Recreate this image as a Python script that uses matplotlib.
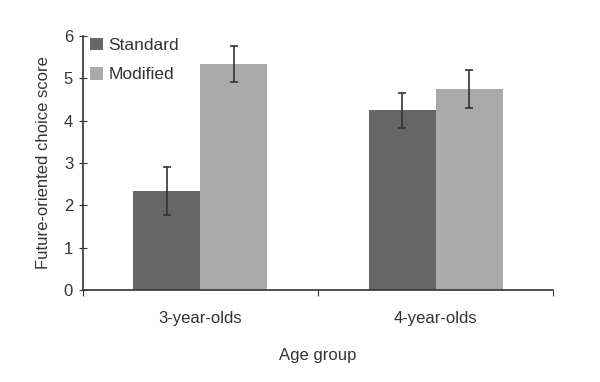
import matplotlib
matplotlib.use("Agg")
import matplotlib.pyplot as plt
import numpy as np

groups = ["3-year-olds", "4-year-olds"]
standard = [2.34, 4.24]
standard_err_hi = [2.90, 4.65]
standard_err_lo = [1.77, 3.83]
modified = [5.34, 4.74]
modified_err_hi = [5.77, 5.20]
modified_err_lo = [4.90, 4.30]

plt.rcParams['font.family'] = ['Liberation Sans', 'DejaVu Sans']

fig = plt.figure(figsize=(6, 3.82), dpi=100)
ax = fig.add_axes([0.138, 0.241, 0.784, 0.665])

x = np.arange(len(groups))
w = 0.285

s = np.array(standard)
m = np.array(modified)
s_err = [s - np.array(standard_err_lo), np.array(standard_err_hi) - s]
m_err = [m - np.array(modified_err_lo), np.array(modified_err_hi) - m]

ax.bar(x - w / 2, s, w, color="#666666", label="Standard",
       yerr=s_err, capsize=3, error_kw=dict(ecolor="#333333", elinewidth=1.2, capthick=1.2))
ax.bar(x + w / 2, m, w, color="#aaaaaa", label="Modified",
       yerr=m_err, capsize=3, error_kw=dict(ecolor="#333333", elinewidth=1.2, capthick=1.2))

ax.set_xlim(-0.5, 1.5)
ax.set_ylim(0, 6)
ax.set_yticks(range(0, 7))
ax.set_xticks([-0.5, 0.5, 1.5])
ax.set_xticklabels([])
ax.set_xticks(x, minor=True)
ax.set_xticklabels(groups, minor=True)
ax.tick_params(axis="x", which="minor", length=0, pad=15, labelsize=12, colors="#333333")
ax.tick_params(axis="x", which="major", direction="out", length=4, color="#333333")
ax.tick_params(axis="y", direction="inout", length=6, labelsize=12, colors="#333333", pad=4)

for side in ["top", "right"]:
    ax.spines[side].set_visible(False)
for side in ["left", "bottom"]:
    ax.spines[side].set_color("#333333")
    ax.spines[side].set_linewidth(1.2)

ax.set_ylabel("Future-oriented choice score", fontsize=12, color="#333333", labelpad=9)
ax.set_xlabel("Age group", fontsize=12, color="#333333", labelpad=16)

ax.legend(loc="upper left", frameon=False, fontsize=12.5, handlelength=0.75, handleheight=0.75,
          handletextpad=0.3, labelspacing=0.8, borderaxespad=0.0, borderpad=0.1,
          labelcolor="#333333", bbox_to_anchor=(0.012, 1.0))

fig.savefig("out.png", dpi=100)
